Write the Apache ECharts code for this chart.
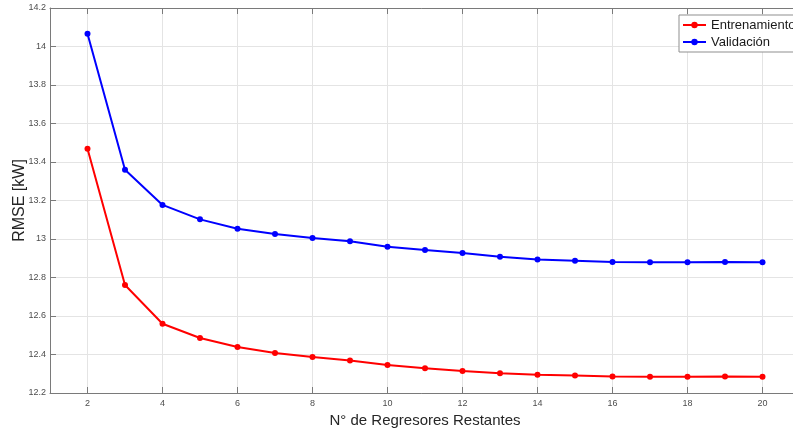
<!DOCTYPE html>
<html>
<head>
<meta charset="utf-8">
<script src="https://cdn.jsdelivr.net/npm/echarts@6/dist/echarts.min.js"></script>
<style>
  html, body { margin: 0; padding: 0; background: #ffffff; }
  #chart { width: 793px; height: 430px; }
</style>
</head>
<body>
<div id="chart"></div>
<script>
// Number of remaining regressors
const regressors = [2, 3, 4, 5, 6, 7, 8, 9, 10, 11, 12, 13, 14, 15, 16, 17, 18, 19, 20];
// RMSE [kW] on the training set
const trainRMSE = [13.469, 12.761, 12.560, 12.486, 12.439, 12.408, 12.387, 12.369, 12.345, 12.328,
                   12.314, 12.302, 12.295, 12.291, 12.286, 12.285, 12.285, 12.286, 12.285];
// RMSE [kW] on the validation set
const validRMSE = [14.066, 13.360, 13.177, 13.102, 13.053, 13.026, 13.005, 12.988, 12.960, 12.943,
                   12.927, 12.908, 12.894, 12.887, 12.880, 12.879, 12.879, 12.880, 12.879];
// Tick positions on the x axis
const xTicks = [2, 4, 6, 8, 10, 12, 14, 16, 18, 20];

const FONT = '"Liberation Sans", Arial, sans-serif';
const AXIS_COLOR = '#7a7a7a';
const GRID_COLOR = '#e4e4e4';

const pairs = (xs, ys) => xs.map((x, i) => [x, ys[i]]);

const chart = echarts.init(document.getElementById('chart'), null, { renderer: 'canvas' });

const lineSeries = (name, color, values) => ({
  name: name,
  type: 'line',
  data: pairs(regressors, values),
  symbol: 'circle',
  symbolSize: 6,
  showSymbol: true,
  lineStyle: { color: color, width: 2 },
  itemStyle: { color: color },
  emphasis: { disabled: true },
  animation: false
});

chart.setOption({
  animation: false,
  textStyle: { fontFamily: FONT },
  grid: { left: 50, top: 8, width: 750, height: 385, containLabel: false, outerBoundsMode: 'none' },
  legend: {
    orient: 'vertical',
    left: 679,
    top: 15,
    padding: [3, 6, 3, 3],
    itemGap: 3,
    itemWidth: 23,
    itemHeight: 8,
    backgroundColor: '#ffffff',
    borderColor: '#8f8f8f',
    borderWidth: 1,
    borderRadius: 0,
    textStyle: { fontFamily: FONT, fontSize: 13, color: '#1a1a1a', lineHeight: 14 },
    data: ['Entrenamiento', 'Validación']
  },
  xAxis: [
    {
      type: 'value',
      min: 1,
      max: 21,
      position: 'bottom',
      name: 'N° de Regresores Restantes',
      nameLocation: 'middle',
      nameGap: 20,
      nameMoveOverlap: false,
      nameTextStyle: { fontFamily: FONT, fontSize: 15, color: '#262626' },
      axisLine: { show: true, lineStyle: { color: AXIS_COLOR, width: 1 } },
      axisTick: { show: true, inside: true, length: 6, customValues: xTicks, lineStyle: { color: AXIS_COLOR } },
      axisLabel: { show: true, customValues: xTicks, margin: 6, fontSize: 9, color: '#4d4d4d', fontFamily: FONT },
      splitLine: { show: true, lineStyle: { color: GRID_COLOR, width: 1 } }
    },
    {
      type: 'value',
      min: 1,
      max: 21,
      position: 'top',
      axisLine: { show: true, lineStyle: { color: AXIS_COLOR, width: 1 } },
      axisTick: { show: true, inside: true, length: 6, customValues: xTicks, lineStyle: { color: AXIS_COLOR } },
      axisLabel: { show: false },
      splitLine: { show: false }
    }
  ],
  yAxis: {
    type: 'value',
    min: 12.2,
    max: 14.2,
    interval: 0.2,
    name: 'RMSE [kW]',
    nameLocation: 'middle',
    nameGap: 22,
    nameMoveOverlap: false,
    nameTextStyle: { fontFamily: FONT, fontSize: 16, color: '#262626' },
    axisLine: { show: true, lineStyle: { color: AXIS_COLOR, width: 1 } },
    axisTick: { show: true, inside: true, length: 6, lineStyle: { color: AXIS_COLOR } },
    axisLabel: {
      margin: 4, fontSize: 9, color: '#4d4d4d', fontFamily: FONT,
      formatter: v => String(Math.round(v * 10) / 10)
    },
    splitLine: { show: true, lineStyle: { color: GRID_COLOR, width: 1 } }
  },
  series: [
    lineSeries('Entrenamiento', '#ff0000', trainRMSE),
    lineSeries('Validación', '#0000ff', validRMSE)
  ]
});
</script>
</body>
</html>
